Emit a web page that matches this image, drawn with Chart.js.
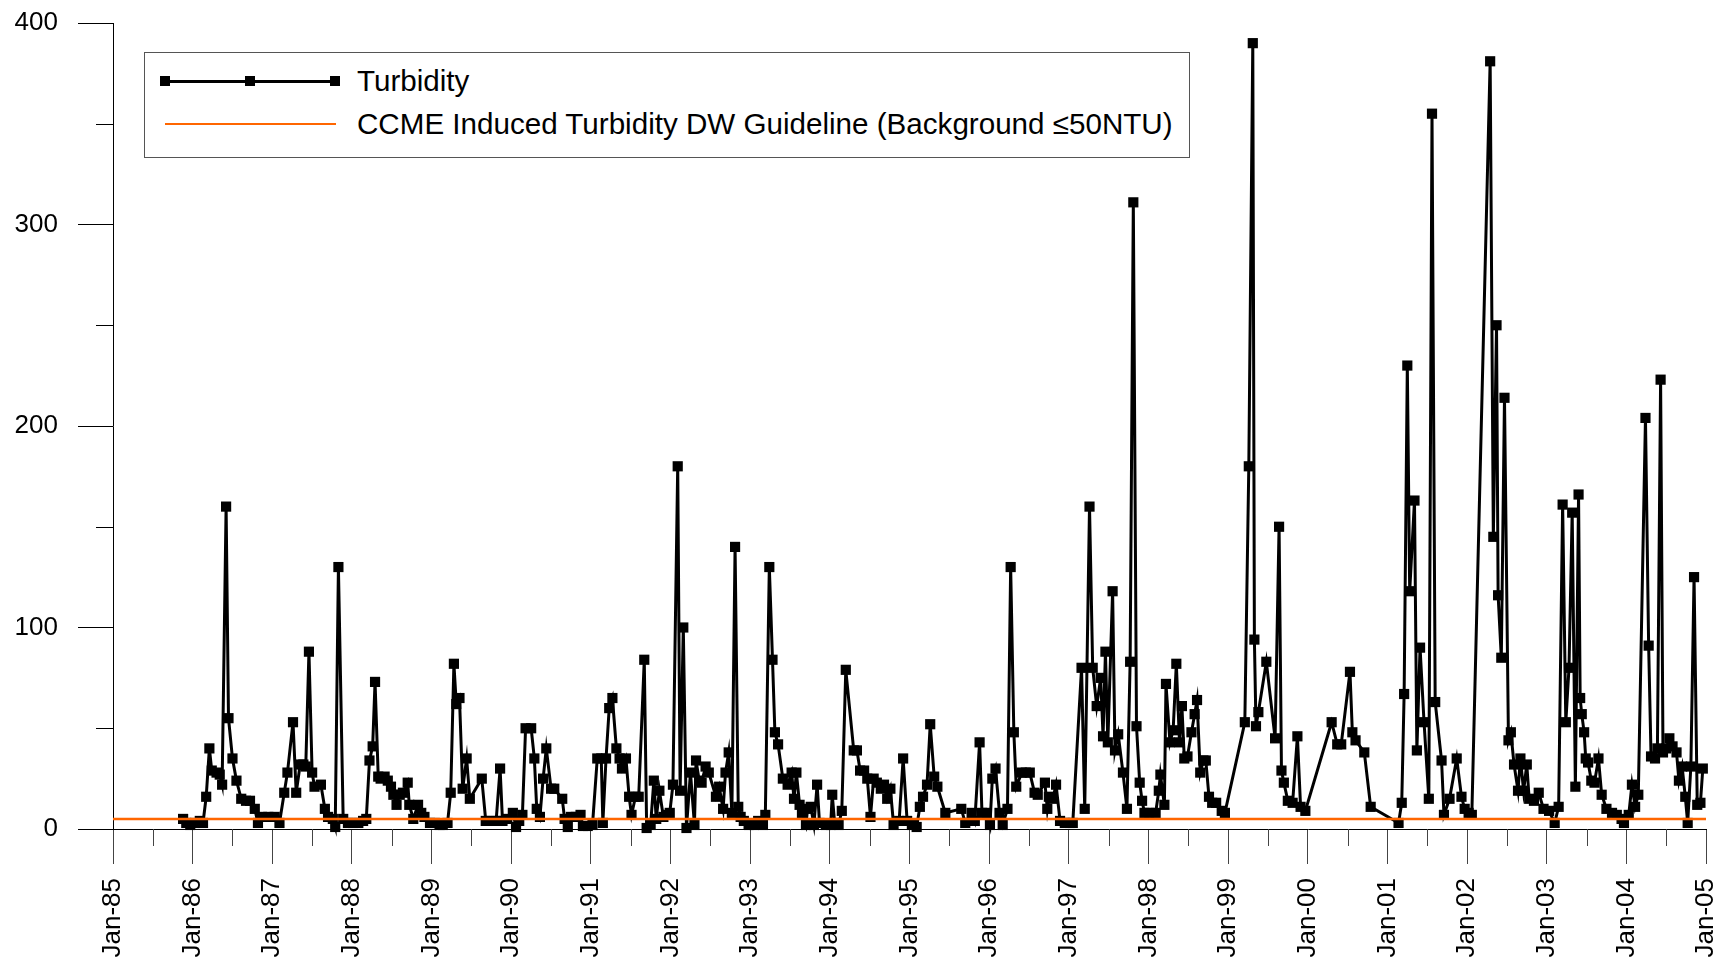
<!DOCTYPE html>
<html>
<head>
<meta charset="utf-8">
<script src="https://cdn.jsdelivr.net/npm/chart.js@4"></script>
<style>
  html, body { margin: 0; padding: 0; background: #fff; }
  #wrap { position: relative; width: 1720px; height: 959px; }
  #legend { position: absolute; left: 144px; top: 52px; width: 1046px; height: 106px; box-sizing: border-box;
            border: 1px solid #555; background: #fff; font-family: 'Liberation Sans', Arial, sans-serif; font-size: 29.6px; color: #000; }
  .lline { position: absolute; }
  .lmark { position: absolute; width: 10px; height: 10px; background: #000; }
  .ltext { position: absolute; white-space: nowrap; line-height: 34px; }
</style>
</head>
<body>
<div id="wrap">
  <canvas id="c" width="1720" height="959"></canvas>
  <div id="legend">
    <div class="lline" style="left:20px; top:27px; width:171px; height:3px; background:#000;"></div>
    <div class="lmark" style="left:15px; top:23px;"></div>
    <div class="lmark" style="left:100px; top:23px;"></div>
    <div class="lmark" style="left:185px; top:23px;"></div>
    <div class="ltext" style="left:212px; top:11px;">Turbidity</div>
    <div class="lline" style="left:20px; top:70px; width:171px; height:2px; background:rgb(255,102,0);"></div>
    <div class="ltext" style="left:212px; top:54px;">CCME Induced Turbidity DW Guideline (Background ≤50NTU)</div>
  </div>
</div>
<script>
// ---- data (decimal year of sample, turbidity NTU) ----
const sampleDates = [
  1985.88,1985.92,1985.97,1986.03,1986.09,1986.13,1986.17,1986.21,1986.24,1986.30,1986.34,1986.37,1986.42,1986.45,1986.50,1986.55,1986.61,1986.67,1986.72,1986.78,1986.82,1986.87,1986.95,
  1987.03,1987.09,1987.15,1987.19,1987.26,1987.30,1987.35,1987.39,1987.42,1987.46,1987.50,1987.53,1987.61,1987.66,1987.70,1987.76,1987.79,1987.83,1987.89,1987.95,
  1988.01,1988.08,1988.14,1988.18,1988.22,1988.26,1988.29,1988.33,1988.36,1988.41,1988.45,1988.49,1988.52,1988.56,1988.60,1988.64,1988.70,1988.72,1988.77,1988.83,1988.87,1988.91,1988.98,
  1989.04,1989.10,1989.14,1989.20,1989.24,1989.28,1989.31,1989.35,1989.39,1989.44,1989.48,1989.63,1989.68,1989.75,1989.81,1989.86,1989.89,1989.95,
  1990.02,1990.06,1990.10,1990.14,1990.18,1990.25,1990.29,1990.32,1990.36,1990.40,1990.44,1990.50,1990.54,1990.64,1990.67,1990.71,1990.75,1990.81,1990.87,1990.90,1990.96,
  1991.02,1991.08,1991.13,1991.15,1991.19,1991.23,1991.27,1991.32,1991.36,1991.39,1991.44,1991.48,1991.51,1991.56,1991.60,1991.67,1991.70,1991.75,1991.79,1991.82,1991.86,1991.91,1991.96,1991.99,
  1992.03,1992.09,1992.12,1992.16,1992.20,1992.25,1992.30,1992.32,1992.36,1992.39,1992.44,1992.48,1992.57,1992.61,1992.66,1992.69,1992.73,1992.77,1992.81,1992.85,1992.88,1992.92,1992.98,
  1993.05,1993.10,1993.16,1993.19,1993.24,1993.28,1993.31,1993.35,1993.41,1993.47,1993.52,1993.55,1993.58,1993.62,1993.65,1993.70,1993.72,1993.76,1993.80,1993.84,1993.87,1993.95,
  1994.01,1994.03,1994.06,1994.11,1994.15,1994.20,1994.30,1994.34,1994.38,1994.43,1994.47,1994.51,1994.55,1994.59,1994.64,1994.68,1994.72,1994.76,1994.80,1994.87,1994.92,1994.97,
  1995.03,1995.09,1995.13,1995.17,1995.22,1995.26,1995.31,1995.35,1995.45,1995.65,1995.70,1995.78,1995.82,1995.88,1995.91,1995.97,
  1996.01,1996.04,1996.08,1996.13,1996.17,1996.23,1996.27,1996.31,1996.34,1996.41,1996.46,1996.51,1996.57,1996.61,1996.70,1996.73,1996.75,1996.80,1996.84,1996.89,1996.95,
  1997.01,1997.05,1997.16,1997.20,1997.26,1997.30,1997.35,1997.40,1997.43,1997.46,1997.49,1997.55,1997.58,1997.62,1997.68,1997.73,1997.77,1997.81,1997.85,1997.89,1997.92,1997.95,
  1998.01,1998.09,1998.13,1998.15,1998.20,1998.22,1998.27,1998.31,1998.35,1998.39,1998.42,1998.45,1998.49,1998.54,1998.58,1998.61,1998.65,1998.69,1998.72,1998.76,1998.80,1998.85,1998.92,1998.96,
  1999.21,1999.26,1999.31,1999.33,1999.35,1999.38,1999.48,1999.59,1999.64,1999.67,1999.70,1999.75,1999.81,1999.87,1999.91,1999.97,
  2000.30,2000.37,2000.42,2000.53,2000.56,2000.60,2000.71,2000.79,
  2001.14,2001.18,2001.21,2001.25,2001.28,2001.34,2001.37,2001.41,2001.46,2001.52,2001.56,2001.60,2001.68,2001.71,2001.78,2001.87,2001.93,2001.97,
  2002.02,2002.06,2002.29,2002.33,2002.37,2002.39,2002.43,2002.47,2002.52,2002.55,2002.59,2002.64,2002.67,2002.71,2002.75,2002.78,2002.84,2002.90,2002.96,
  2003.03,2003.10,2003.15,2003.20,2003.24,2003.28,2003.32,2003.36,2003.40,2003.42,2003.44,2003.47,2003.49,2003.52,2003.56,2003.60,2003.65,2003.69,2003.75,2003.82,2003.88,2003.94,2003.97,
  2004.03,2004.07,2004.11,2004.15,2004.24,2004.28,2004.31,2004.36,2004.39,2004.43,2004.46,2004.50,2004.54,2004.58,2004.63,2004.66,2004.70,2004.74,2004.77,2004.81,2004.85,2004.89,2004.93,2004.96
];
const turbidity = [
  5,3,2,3,4,3,16,40,29,28,27,22,160,55,35,24,15,14,14,10,3,6,6,
  6,3,18,28,53,18,32,32,31,88,28,21,22,10,6,5,1,130,5,3,
  3,3,4,5,34,41,73,26,25,26,24,21,17,12,17,18,23,12,5,12,8,6,3,
  3,2,2,3,18,82,62,65,20,35,15,25,4,4,4,30,4,5,
  8,1,4,7,50,50,35,10,6,25,40,20,20,15,5,1,6,6,7,1.5,1.5,
  2,35,35,3,35,60,65,40,35,30,35,16,7,16,16,84,0.5,2,24,5,19,6,7,8,
  22,180,19,100,0.5,28,2,34,24,23,31,28,16,21,10,28,38,8,140,11,6,4,2,
  2,4,2,7,130,84,48,42,25,22,28,15,28,12,8,2,10,11,2,22,3,2,
  2,17,3,2,9,79,39,39,29,29,25,6,25,23,20,22,15,20,2,4,35,4,
  2,1,11,16,22,52,26,21,8,10,3,8,4,43,8,8,
  2,25,30,8,2,10,130,48,21,28,28,28,18,17,23,10,16,15,22,4,3,
  3,3,80,10,160,80,61,75,46,88,43,118,39,47,28,10,83,311,51,23,14,8,
  8,8,19,27,12,72,43,49,82,43,61,35,36,48,57,64,28,34,34,16,13,13,9,8,
  53,180,390,94,51,58,83,45,150,29,23,14,13,46,11,9,
  53,42,42,78,48,44,38,11,
  3,13,67,230,118,163,39,90,53,15,355,63,34,7,15,35,16,10,
  8,7,381,145,250,116,85,214,44,48,32,19,35,19,32,15,14,18,10,
  9,3,11,161,53,80,157,21,166,65,57,48,35,33,24,23,35,17,10,8,7,5,3,
  7,22,11,17,204,91,36,35,40,223,38,40,45,41,38,24,31,16,3,31,125,12,13,30
];
const guidelineDates = [1985, 2005];
const guidelineValues = [5, 5];
const xTickLabels = ['Jan-85','Jan-86','Jan-87','Jan-88','Jan-89','Jan-90','Jan-91','Jan-92','Jan-93','Jan-94',
  'Jan-95','Jan-96','Jan-97','Jan-98','Jan-99','Jan-00','Jan-01','Jan-02','Jan-03','Jan-04','Jan-05'];
const yTickLabels = ['0','100','200','300','400'];
const seriesNames = ['Turbidity', 'CCME Induced Turbidity DW Guideline (Background \u226450NTU)'];

// ---- chart ----
const turbPoints = sampleDates.map((d, i) => ({ x: d, y: turbidity[i] }));
const guidePoints = guidelineDates.map((d, i) => ({ x: d, y: guidelineValues[i] }));
const isInt = v => Math.abs(v - Math.round(v)) < 1e-6;

Chart.defaults.font.family = "'Liberation Sans', Arial, sans-serif";
Chart.defaults.font.size = 26;
Chart.defaults.color = '#000';

const minorTicks = {
  id: 'minorTicks',
  afterDraw(chart) {
    const ctx = chart.ctx, xs = chart.scales.x, ys = chart.scales.y;
    ctx.save();
    ctx.lineWidth = 1;
    ctx.strokeStyle = '#444';
    xs.ticks.forEach(t => {
      if (!isInt(t.value)) {
        const px = Math.round(xs.getPixelForValue(t.value)) + 0.5;
        ctx.beginPath(); ctx.moveTo(px, ys.bottom); ctx.lineTo(px, ys.bottom + 17); ctx.stroke();
      }
    });
    ctx.strokeStyle = '#000';
    ys.ticks.forEach(t => {
      if (t.value % 100 !== 0) {
        const py = Math.round(ys.getPixelForValue(t.value)) + 0.5;
        ctx.beginPath(); ctx.moveTo(xs.left - 17, py); ctx.lineTo(xs.left, py); ctx.stroke();
      }
    });
    ctx.restore();
  }
};

new Chart(document.getElementById('c'), {
  type: 'scatter',
  data: {
    datasets: [
      {
        label: seriesNames[1],
        data: guidePoints,
        showLine: true,
        borderColor: 'rgb(255,102,0)',
        borderWidth: 2.5,
        pointRadius: 0,
        order: 0
      },
      {
        label: seriesNames[0],
        data: turbPoints,
        showLine: true,
        borderColor: '#000',
        borderWidth: 3,
        pointStyle: 'rect',
        pointRadius: 7.2,
        pointBackgroundColor: '#000',
        pointBorderColor: '#000',
        pointBorderWidth: 0,
        tension: 0,
        clip: false,
        order: 1
      }
    ]
  },
  options: {
    responsive: false,
    animation: false,
    devicePixelRatio: 1,
    layout: { padding: { top: 23, right: 14, bottom: 0, left: 0 } },
    plugins: { legend: { display: false }, tooltip: { enabled: false } },
    scales: {
      x: {
        type: 'linear',
        min: 1985, max: 2005,
        afterFit: s => { s.height = 130; s.paddingLeft = 0; s.paddingRight = 0; },
        ticks: {
          stepSize: 0.5,
          autoSkip: false,
          minRotation: 90, maxRotation: 90,
          padding: 14,
          callback: v => isInt(v) ? xTickLabels[Math.round(v) - 1985] : ''
        },
        grid: {
          drawOnChartArea: false,
          drawTicks: true,
          tickLength: 35,
          tickWidth: 1,
          tickColor: c => (c.tick && isInt(c.tick.value)) ? '#444' : 'rgba(0,0,0,0)'
        },
        border: { display: true, color: '#000', width: 1 }
      },
      y: {
        type: 'linear',
        min: 0, max: 400,
        afterFit: s => { s.width = 113; s.paddingTop = 0; s.paddingBottom = 0; },
        ticks: {
          stepSize: 50,
          padding: 20,
          callback: v => (v % 100 === 0) ? yTickLabels[v / 100] : ''
        },
        grid: {
          drawOnChartArea: false,
          drawTicks: true,
          tickLength: 35,
          tickWidth: 1,
          tickColor: c => (c.tick && c.tick.value % 100 === 0) ? '#000' : 'rgba(0,0,0,0)'
        },
        border: { display: true, color: '#000', width: 1 }
      }
    }
  },
  plugins: [minorTicks]
});
</script>
</body>
</html>
